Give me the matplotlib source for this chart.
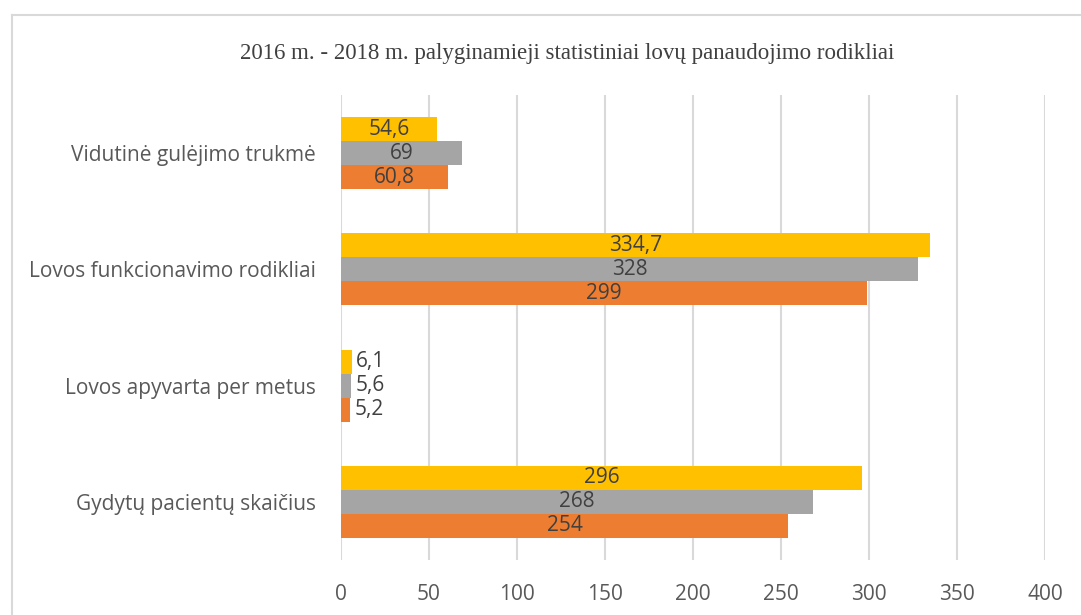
import numpy as np
import matplotlib.pyplot as plt
from matplotlib.lines import Line2D

# categories listed bottom to top, as on the chart
categories = ['Gydytų pacientų skaičius', 'Lovos apyvarta per metus',
              'Lovos funkcionavimo rodikliai', 'Vidutinė gulėjimo trukmė']
series_names = ['2016 m.', '2017 m.', '2018 m.']
values_2016 = [254, 5.2, 299, 60.8]
values_2017 = [268, 5.6, 328, 69]
values_2018 = [296, 6.1, 334.7, 54.6]
colors = ['#ED7D31', '#A5A5A5', '#FFC000']
title = '2016 m. - 2018 m. palyginamieji statistiniai lovų panaudojimo rodikliai'

plt.rcParams['font.family'] = ['Open Sans', 'DejaVu Sans']

fig = plt.figure(figsize=(10.81, 6.15), dpi=100)
ax = fig.add_axes([341 / 1081, 1 - 560 / 615, 704 / 1081, 465 / 615])

y = np.arange(len(categories))
h = 0.207
all_vals = [values_2016, values_2017, values_2018]
for i, (vals, c) in enumerate(zip(all_vals, colors)):
    bars = ax.barh(y + (i - 1) * h, vals, height=h, color=c, zorder=3)
    labels = [f'{v:g}'.replace('.', ',') for v in vals]
    for b, v, lab in zip(bars, vals, labels):
        cy = b.get_y() + b.get_height() / 2
        if v < 30:
            ax.text(v + 2.5, cy, lab, ha='left', va='center', fontsize=15, color='#404040')
        else:
            ax.text(v / 2, cy, lab, ha='center', va='center', fontsize=15, color='#404040')

ax.set_xlim(0, 400)
ax.set_ylim(-0.5, len(categories) - 0.5)
ax.set_xticks(range(0, 401, 50))
ax.set_yticks(y)
ax.set_yticklabels(categories)
ax.grid(axis='x', color='#D9D9D9', linewidth=1.5, zorder=0)
for s in ax.spines.values():
    s.set_visible(False)
ax.tick_params(axis='both', length=0, labelsize=15, colors='#595959')
ax.tick_params(axis='x', pad=17)
ax.tick_params(axis='y', pad=18)

fig.text(567 / 1081, 1 - 53 / 615, title, ha='center', va='center',
         fontsize=16.5, color='#404040', family=['Liberation Serif', 'DejaVu Serif'])

# chart border (right and bottom edges fall outside the picture)
fig.add_artist(Line2D([11.5 / 1081, 11.5 / 1081], [0, 1 - 14.5 / 615],
                      transform=fig.transFigure, color='#D9D9D9', linewidth=1.5))
fig.add_artist(Line2D([11.5 / 1081, 1], [1 - 14.5 / 615, 1 - 14.5 / 615],
                      transform=fig.transFigure, color='#D9D9D9', linewidth=1.5))

fig.savefig('out.png', dpi=100)
